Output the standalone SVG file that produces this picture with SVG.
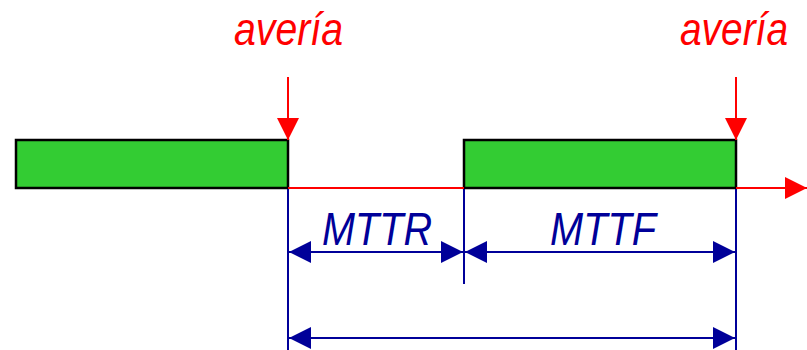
<svg xmlns="http://www.w3.org/2000/svg" width="807" height="350" viewBox="0 0 807 350">
<style>
.bar{fill:#33cc33;stroke:#000;stroke-width:2.5}
.red{stroke:#ff0000;stroke-width:2;fill:none}
.blue{stroke:#000099;stroke-width:2;fill:none}
.rt{fill:#ff0000;font-family:"Liberation Sans",Arial,sans-serif;font-style:italic;font-size:46px}
.bt{fill:#000099;font-family:"Liberation Sans",Arial,sans-serif;font-style:italic;font-size:47px}
</style>
<defs>
<marker id="rh" viewBox="0 0 22 22" refX="22" refY="11" markerWidth="22" markerHeight="22" markerUnits="userSpaceOnUse" orient="auto"><path d="M0,0 L22,11 L0,22 Z" fill="#ff0000"/></marker>
<marker id="bh" viewBox="0 0 22 22" refX="22" refY="11" markerWidth="22" markerHeight="22" markerUnits="userSpaceOnUse" orient="auto-start-reverse"><path d="M0,0 L22,11 L0,22 Z" fill="#000099"/></marker>
</defs>
<g id="bar1"><rect class="bar" x="16" y="140" width="272" height="48"/></g>
<g id="bar2"><rect class="bar" x="464" y="140" width="272" height="48"/></g>
<g id="fail1"><text class="rt" x="234" y="45" textLength="109" lengthAdjust="spacingAndGlyphs">avería</text></g>
<g id="fail2"><text class="rt" x="680" y="45" textLength="108" lengthAdjust="spacingAndGlyphs">avería</text></g>
<g id="lbl-mttr"><text class="bt" x="322" y="245" textLength="110" lengthAdjust="spacingAndGlyphs">MTTR</text></g>
<g id="lbl-mttf"><text class="bt" x="550" y="245" textLength="106" lengthAdjust="spacingAndGlyphs">MTTF</text></g>
<g id="connectors">
<line class="red" x1="288" y1="188" x2="464" y2="188"/>
<line class="red" x1="736" y1="188" x2="807" y2="188" marker-end="url(#rh)"/>
<line class="red" x1="288" y1="77" x2="288" y2="140" marker-end="url(#rh)"/>
<line class="red" x1="736" y1="77" x2="736" y2="140" marker-end="url(#rh)"/>
<line class="blue" x1="288" y1="189" x2="288" y2="350"/>
<line class="blue" x1="464" y1="189" x2="464" y2="284"/>
<line class="blue" x1="736" y1="189" x2="736" y2="350"/>
<line class="blue" x1="289" y1="252" x2="463" y2="252" marker-start="url(#bh)" marker-end="url(#bh)"/>
<line class="blue" x1="465" y1="252" x2="735" y2="252" marker-start="url(#bh)" marker-end="url(#bh)"/>
<line class="blue" x1="289" y1="338" x2="735" y2="338" marker-start="url(#bh)" marker-end="url(#bh)"/>
</g>
</svg>
